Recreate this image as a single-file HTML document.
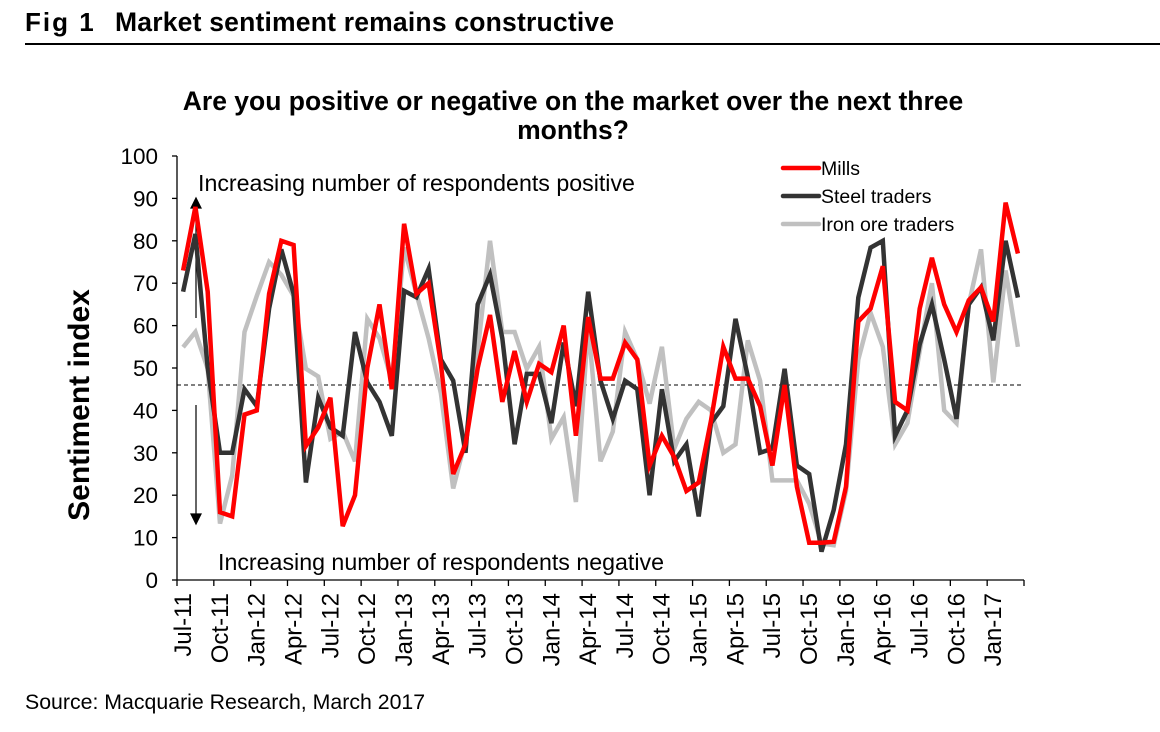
<!DOCTYPE html>
<html><head><meta charset="utf-8"><style>
body{margin:0;background:#fff;width:1160px;height:727px;overflow:hidden;font-family:"Liberation Sans",Arial,sans-serif}
</style></head><body>
<svg id="chart" width="1160" height="727" xmlns="http://www.w3.org/2000/svg" font-family="Liberation Sans, Arial, sans-serif">
<text x="25" y="31" font-size="26" font-weight="bold" letter-spacing="2">Fig 1</text>
<text x="115" y="31" font-size="26.5" font-weight="bold" letter-spacing="0.2">Market sentiment remains constructive</text>
<line x1="25" y1="44" x2="1160" y2="44" stroke="#000" stroke-width="2"/>
<text x="573" y="110" font-size="26.5" font-weight="bold" text-anchor="middle">Are you positive or negative on the market over the next three</text>
<text x="573" y="139" font-size="26.5" font-weight="bold" text-anchor="middle">months?</text>
<text transform="translate(89,405) rotate(-90)" font-size="30" font-weight="bold" text-anchor="middle">Sentiment index</text>
<text x="25" y="709" font-size="21.3">Source: Macquarie Research, March 2017</text>
<g id="axes"></g>
<g id="series"></g>
<g id="legend"></g>
</svg>
<script>
const categories=["Jul-11","Aug-11","Sep-11","Oct-11","Nov-11","Dec-11","Jan-12","Feb-12","Mar-12","Apr-12","May-12","Jun-12","Jul-12","Aug-12","Sep-12","Oct-12","Nov-12","Dec-12","Jan-13","Feb-13","Mar-13","Apr-13","May-13","Jun-13","Jul-13","Aug-13","Sep-13","Oct-13","Nov-13","Dec-13","Jan-14","Feb-14","Mar-14","Apr-14","May-14","Jun-14","Jul-14","Aug-14","Sep-14","Oct-14","Nov-14","Dec-14","Jan-15","Feb-15","Mar-15","Apr-15","May-15","Jun-15","Jul-15","Aug-15","Sep-15","Oct-15","Nov-15","Dec-15","Jan-16","Feb-16","Mar-16","Apr-16","May-16","Jun-16","Jul-16","Aug-16","Sep-16","Oct-16","Nov-16","Dec-16","Jan-17","Feb-17","Mar-17"];
const mills=[73,88,68,16,15,39,40,67.5,80,79,31.6,36,43,12.7,20,50,65,45,84,67.5,70,51,25,32,50,62.5,42,54,42,51,49,60,34,62,47.5,47.5,56,52,27,34,29,21,23,37.6,55,47.5,47.5,41,27,46,22,8.8,8.8,9,22,61,64,74,42,40,64,76,65,58.5,66,69,61,89,77];
const steel=[68,81.6,50,30,30,45,41,64,78,67.5,23,43,36,34,58.5,46.6,42,34,68.2,66.7,73.4,52,47,30,65,72,57,32,48.6,48.6,37,56,41,68,47,38,47,45,20,45,28,32,15,37,41,61.6,48,30,31,49.8,27,25,6.7,16.5,32,66.6,78.4,80,34,40,55.6,65,52,38,65,69,56.5,80,66.6];
const iron=[54.9,58.5,49.8,13.3,24.7,58.5,67,75,72,67,49.8,48,33.3,35,28,61.6,57,47,78.4,67.5,57,44,21.6,33,54,80,58.5,58.5,49.8,55,33.3,38.4,18.4,60,28,35,58.5,52,41.6,55,31,38,42,40,30,32,56.5,47,23.5,23.5,23.5,18,8.6,8.2,21,52,63,55,32,37,54,70,40,37,65,78,46.6,73,55];
const yTicks=[0,10,20,30,40,50,60,70,80,90,100];
const xLabelEvery=3;
const refLevel=46;
const seriesNames=["Mills","Steel traders","Iron ore traders"];

const X0=177,X1=1024,Y0=580,Y1=156;
const step=(X1-X0)/categories.length;
const xs=i=>X0+(i+0.5)*step;
const ys=v=>Y0-(v/100)*(Y0-Y1);
const NS="http://www.w3.org/2000/svg";
function mk(tag,attrs,parent){const e=document.createElementNS(NS,tag);for(const k in attrs)e.setAttribute(k,attrs[k]);parent.appendChild(e);return e;}
const axes=document.getElementById('axes'),series=document.getElementById('series'),legend=document.getElementById('legend');

let a=mk('line',{x1:X0,y1:Y1,x2:X0,y2:Y0,stroke:'#000','stroke-width':1.3},axes);


a=mk('line',{x1:X0,y1:Y0,x2:X1,y2:Y0,stroke:'#000','stroke-width':1.3},axes);


yTicks.forEach(v=>{
  const t=mk('line',{x1:X0-5,y1:ys(v),x2:X0,y2:ys(v),stroke:'#000','stroke-width':1.3},axes);
  
  
  const l=mk('text',{x:158,y:ys(v)+8,'font-size':22.5,'text-anchor':'end'},axes);
  l.textContent=v;
  
  
});
for(let i=0;i<=categories.length;i+=xLabelEvery){
  const x=X0+i*step;
  const t=mk('line',{x1:x,y1:Y0,x2:x,y2:Y0+6,stroke:'#000','stroke-width':1.3},axes);
  
  
  if(i<categories.length){
    const l=mk('text',{transform:`translate(${x+14},${593}) rotate(-90)`,'font-size':24,'text-anchor':'end'},axes);
    l.textContent=categories[i];
    
    
  }
}
let r=mk('line',{x1:X0,y1:ys(refLevel),x2:X1,y2:ys(refLevel),stroke:'#000','stroke-width':1,'stroke-dasharray':'4,3'},axes);


const ann=[["Increasing number of respondents positive",198,191,"annotation-positive"],["Increasing number of respondents negative",218,570,"annotation-negative"]];
ann.forEach(([s,x,y,n])=>{const t=mk('text',{x:x,y:y,'font-size':23.2},axes);t.textContent=s;

});
let ar=mk('path',{d:'M196,318 L196,206 M191,208 L196,198 L201,208 Z',stroke:'#000','stroke-width':1.2,fill:'#000'},axes);


ar=mk('path',{d:'M196,405 L196,516 M191,514 L196,524 L201,514 Z',stroke:'#000','stroke-width':1.2,fill:'#000'},axes);



const defs=[[iron,'#c0c0c0','iron-ore-traders-line'],[steel,'#333333','steel-traders-line'],[mills,'#ff0000','mills-line']];
defs.forEach(([d,c,n])=>{
  const p=mk('polyline',{points:d.map((v,i)=>xs(i).toFixed(1)+','+ys(v).toFixed(1)).join(' '),fill:'none',stroke:c,'stroke-width':4.5,'stroke-linejoin':'miter'},series);
  
  
});
const lc=['#ff0000','#333333','#c0c0c0'];
seriesNames.forEach((s,i)=>{
  const y=168+i*28;
  const l=mk('line',{x1:783,y1:y,x2:819,y2:y,stroke:lc[i],'stroke-width':4.5,'stroke-linecap':'round'},legend);
  
  
  const t=mk('text',{x:821,y:y+7,'font-size':19.5},legend);
  t.textContent=s;
  
  
});
</script>
</body></html>
